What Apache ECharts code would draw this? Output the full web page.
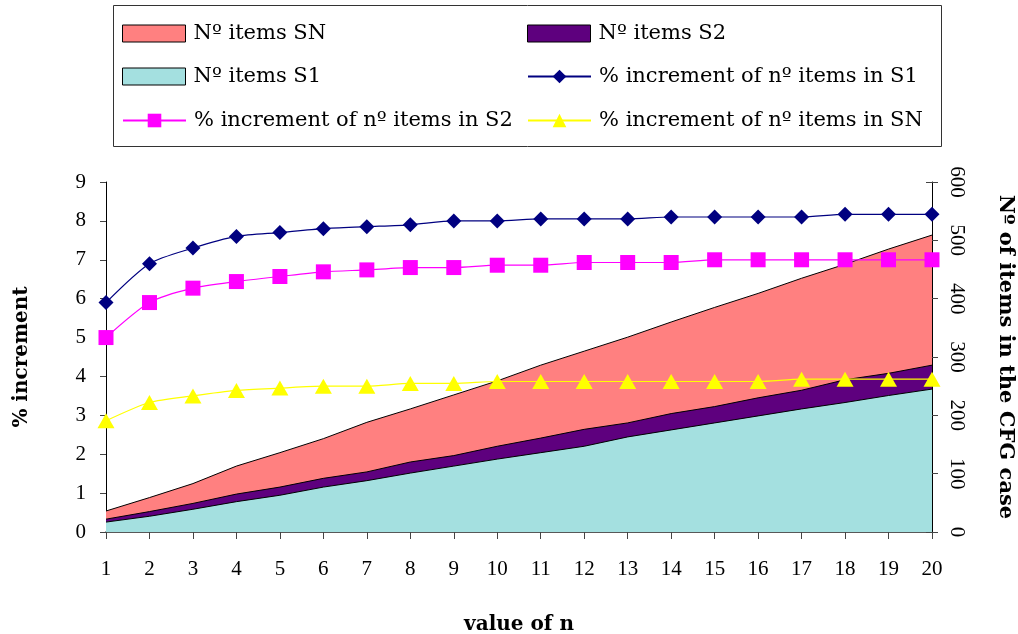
<!DOCTYPE html>
<html>
<head>
<meta charset="utf-8">
<title>Items and % increment vs n</title>
<script src="https://cdn.jsdelivr.net/npm/echarts@6/dist/echarts.min.js"></script>
<style>
  html, body { margin: 0; padding: 0; background: #ffffff; }
  #chart { width: 1018px; height: 634px; }
</style>
</head>
<body>
<div id="chart"></div>
<script>
// Values of n on the horizontal axis
const nValues = ['1','2','3','4','5','6','7','8','9','10','11','12','13','14','15','16','17','18','19','20'];

// Percentage increments (left axis)
const pctS1 = [5.9, 6.9, 7.3, 7.6, 7.7, 7.8, 7.85, 7.9, 8.0, 8.0, 8.05, 8.05, 8.05, 8.1, 8.1, 8.1, 8.1, 8.17, 8.17, 8.17];
const pctS2 = [5.0, 5.9, 6.27, 6.44, 6.57, 6.69, 6.74, 6.8, 6.8, 6.86, 6.86, 6.93, 6.93, 6.93, 7.0, 7.0, 7.0, 7.0, 7.0, 7.0];
const pctSN = [2.86, 3.33, 3.5, 3.64, 3.7, 3.75, 3.75, 3.82, 3.82, 3.87, 3.87, 3.87, 3.87, 3.87, 3.87, 3.87, 3.93, 3.93, 3.93, 3.93];

// Number of items (right axis)
const itemsSN = [36, 59, 83, 113, 136, 160, 188, 211, 235, 259, 286, 310, 334, 360, 385, 409, 435, 459, 485, 509];
const itemsS2 = [22, 35, 49, 65, 77, 92, 103, 120, 131, 147, 161, 176, 187, 203, 215, 230, 243, 261, 272, 286];
const itemsS1 = [17, 27, 39, 52, 63, 77, 88, 101, 113, 125, 136, 147, 163, 175, 187, 199, 211, 222, 234, 245];

// Axis ticks
const pctTicks = { min: 0, max: 9, interval: 1 };
const itemTicks = { min: 0, max: 600, interval: 100 };

const NAME_SN = 'Nº items SN';
const NAME_S2 = 'Nº items S2';
const NAME_S1 = 'Nº items S1';
const NAME_P1 = '% increment of nº items in S1';
const NAME_P2 = '% increment of nº items in S2';
const NAME_PN = '% increment of nº items in SN';

const SERIF = '"Liberation Serif", "DejaVu Serif", serif';
const WIDE_SERIF = '"DejaVu Serif", "Liberation Serif", serif';

const chart = echarts.init(document.getElementById('chart'), null, { renderer: 'canvas' });

function legendAt(name, left, top, isArea) {
  const l = {
    data: [name],
    left: left,
    top: top,
    padding: 0,
    itemWidth: 63,
    itemHeight: 17,
    selectedMode: false,
    textStyle: { fontFamily: WIDE_SERIF, fontSize: 21, color: '#000', padding: [0, 0, 0, 3] }
  };
  if (isArea) {
    l.icon = 'rect';
    l.itemStyle = { borderColor: '#000', borderWidth: 1 };
  }
  return l;
}

function titleStyle(size) {
  return { fontFamily: WIDE_SERIF, fontSize: size, fontWeight: 'bold', color: '#000' };
}

const option = {
  animation: false,
  backgroundColor: '#ffffff',
  textStyle: { fontFamily: SERIF },
  graphic: [{
    type: 'rect',
    shape: { x: 113.5, y: 5.5, width: 828, height: 141 },
    style: { fill: 'none', stroke: '#333', lineWidth: 1 },
    z: 0
  }],
  legend: [
    legendAt(NAME_SN, 122, 23, true),
    legendAt(NAME_S2, 527, 23, true),
    legendAt(NAME_S1, 122, 66, true),
    legendAt(NAME_P1, 527, 66, false),
    legendAt(NAME_P2, 122, 110, false),
    legendAt(NAME_PN, 527, 110, false)
  ],
  grid: { left: 106, right: 86, top: 182, bottom: 102, containLabel: false, outerBoundsMode: 'none' },
  xAxis: {
    type: 'category',
    data: nValues,
    boundaryGap: false,
    name: 'value of n',
    nameLocation: 'middle',
    nameGap: 83,
    nameTextStyle: titleStyle(20),
    axisLine: { lineStyle: { color: '#222', width: 1.5 } },
    axisTick: { show: true, length: 7, alignWithLabel: true, lineStyle: { color: '#444' } },
    axisLabel: { margin: 27, fontFamily: SERIF, fontSize: 21, color: '#000' },
    splitLine: { show: false }
  },
  yAxis: [
    {
      type: 'value',
      position: 'left',
      min: pctTicks.min, max: pctTicks.max, interval: pctTicks.interval,
      name: '% increment',
      nameLocation: 'middle',
      nameGap: 74,
      nameTextStyle: titleStyle(20),
      axisLine: { show: true, lineStyle: { color: '#000', width: 1 } },
      axisTick: { show: true, length: 6, lineStyle: { color: '#444' } },
      axisLabel: { margin: 20, fontFamily: SERIF, fontSize: 21, color: '#000' },
      splitLine: { show: false }
    },
    {
      type: 'value',
      position: 'right',
      min: itemTicks.min, max: itemTicks.max, interval: itemTicks.interval,
      name: 'Nº of items in the CFG case',
      nameLocation: 'middle',
      nameRotate: -90,
      nameGap: 63,
      nameTextStyle: titleStyle(21),
      axisLine: { show: true, lineStyle: { color: '#000', width: 1 } },
      axisTick: { show: true, length: 6, lineStyle: { color: '#444' } },
      axisLabel: { margin: 14, rotate: -90, fontFamily: SERIF, fontSize: 21, color: '#000' },
      splitLine: { show: false }
    },
    {
      // inner half of the right-hand ticks, so they cross the axis line
      type: 'value',
      position: 'right',
      min: itemTicks.min, max: itemTicks.max, interval: itemTicks.interval,
      axisLine: { show: false },
      axisTick: { show: true, inside: true, length: 6, lineStyle: { color: '#444' } },
      axisLabel: { show: false },
      splitLine: { show: false }
    }
  ],
  series: [
    {
      name: NAME_SN, type: 'line', yAxisIndex: 1, data: itemsSN,
      symbol: 'none', smooth: false,
      lineStyle: { color: '#000', width: 1 },
      itemStyle: { color: '#FF8080' },
      areaStyle: { color: '#FF8080', opacity: 1 },
      z: 1
    },
    {
      name: NAME_S2, type: 'line', yAxisIndex: 1, data: itemsS2,
      symbol: 'none', smooth: false,
      lineStyle: { color: '#000', width: 1 },
      itemStyle: { color: '#5E007E' },
      areaStyle: { color: '#5E007E', opacity: 1 },
      z: 2
    },
    {
      name: NAME_S1, type: 'line', yAxisIndex: 1, data: itemsS1,
      symbol: 'none', smooth: false,
      lineStyle: { color: '#000', width: 1 },
      itemStyle: { color: '#A4E0E0' },
      areaStyle: { color: '#A4E0E0', opacity: 1 },
      z: 3
    },
    {
      name: NAME_PN, type: 'line', yAxisIndex: 0, data: pctSN,
      symbol: 'triangle', symbolSize: [17, 15], smooth: 0.25,
      lineStyle: { color: '#FFFF00', width: 1.2 },
      itemStyle: { color: '#FFFF00' },
      z: 4
    },
    {
      name: NAME_P2, type: 'line', yAxisIndex: 0, data: pctS2,
      symbol: 'rect', symbolSize: 15, smooth: 0.25,
      lineStyle: { color: '#FF00FF', width: 1.2 },
      itemStyle: { color: '#FF00FF' },
      z: 5
    },
    {
      name: NAME_P1, type: 'line', yAxisIndex: 0, data: pctS1,
      symbol: 'diamond', symbolSize: 15, smooth: 0.25,
      lineStyle: { color: '#000080', width: 1.2 },
      itemStyle: { color: '#000080' },
      z: 6
    }
  ]
};

chart.setOption(option);
</script>
</body>
</html>
